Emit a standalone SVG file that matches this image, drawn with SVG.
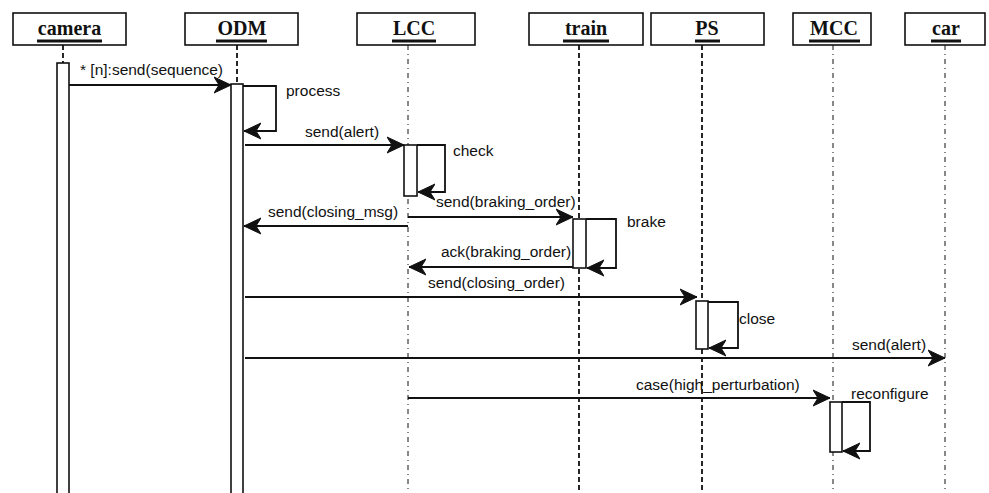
<svg xmlns="http://www.w3.org/2000/svg" width="989" height="493" viewBox="0 0 989 493">
<style>
.hd{fill:#fff;stroke:#111;stroke-width:1.6}
.ht{font-family:"Liberation Serif",serif;font-weight:bold;font-size:20px;fill:#111;text-anchor:middle}
.ul{fill:#111}
.ll{stroke:#111;stroke-width:1;fill:none;stroke-dasharray:5,4,1,4}
.lt{stroke:#111;stroke-width:1.8;fill:none;stroke-dasharray:5,3}
.act{fill:#fff;stroke:#111;stroke-width:1.6}
.msg{stroke:#111;stroke-width:1.8;fill:none;marker-end:url(#ah)}
.lbl{font-family:"Liberation Sans",Arial,sans-serif;font-size:15.5px;fill:#111}
</style>
<defs>
<marker id="ah" markerUnits="userSpaceOnUse" markerWidth="20" markerHeight="20" refX="17" refY="9" orient="auto">
<path d="M0,1 L17,9 L0,17 L5,9 z" fill="#111" stroke="#111" stroke-width="1" stroke-linejoin="miter"/>
</marker>
</defs>
<g id="camera">
<rect class="hd" x="13" y="13" width="113" height="32"/>
<text class="ht" x="69.5" y="35">camera</text>
<rect class="ul" x="37" y="39.5" width="65" height="3"/>
<line class="lt" x1="63" y1="45" x2="63" y2="63"/>
<rect class="act" x="57" y="63" width="12" height="440"/>
</g>
<g id="ODM">
<rect class="hd" x="185" y="13" width="113" height="32"/>
<text class="ht" x="242" y="35">ODM</text>
<rect class="ul" x="216" y="39.5" width="51" height="3"/>
<line class="lt" x1="237" y1="45" x2="237" y2="84"/>
<rect class="act" x="231" y="84" width="12" height="420"/>
</g>
<g id="LCC">
<rect class="hd" x="357" y="13" width="118" height="32"/>
<text class="ht" x="414" y="35">LCC</text>
<rect class="ul" x="392" y="39.5" width="44" height="3"/>
<line class="ll" x1="408" y1="45" x2="408" y2="493"/>
<rect class="act" x="404" y="145" width="13" height="51"/>
</g>
<g id="train">
<rect class="hd" x="529" y="13" width="114" height="32"/>
<text class="ht" x="586" y="35">train</text>
<rect class="ul" x="563" y="39.5" width="46" height="3"/>
<line class="lt" x1="579" y1="45" x2="579" y2="493"/>
<rect class="act" x="573" y="219" width="13" height="49"/>
</g>
<g id="PS">
<rect class="hd" x="651" y="13" width="113" height="32"/>
<text class="ht" x="707" y="35">PS</text>
<rect class="ul" x="695" y="39.5" width="25" height="3"/>
<line class="lt" x1="702" y1="45" x2="702" y2="493"/>
<rect class="act" x="696" y="301" width="12" height="48"/>
</g>
<g id="MCC">
<rect class="hd" x="793" y="13" width="78" height="32"/>
<text class="ht" x="834" y="35">MCC</text>
<rect class="ul" x="809" y="39.5" width="51" height="3"/>
<line class="ll" x1="833" y1="45" x2="833" y2="493"/>
<rect class="act" x="830" y="402" width="12" height="50"/>
</g>
<g id="car">
<rect class="hd" x="905" y="13" width="80" height="32"/>
<text class="ht" x="946" y="35">car</text>
<rect class="ul" x="931" y="39.5" width="30" height="3"/>
<line class="ll" x1="945" y1="45" x2="945" y2="493"/>
</g>
<g id="connectors">
<line class="msg" x1="69" y1="85" x2="231" y2="85"/>
<text class="lbl" x="80" y="75">* [n]:send(sequence)</text>
<polyline class="msg" points="243,86 276,86 276,131 244,131"/>
<text class="lbl" x="286" y="96">process</text>
<line class="msg" x1="245" y1="145" x2="404" y2="145"/>
<text class="lbl" x="305" y="137">send(alert)</text>
<polyline class="msg" points="417,145 445,145 445,192 418,192"/>
<text class="lbl" x="453" y="156">check</text>
<line class="msg" x1="408" y1="217" x2="573" y2="217"/>
<text class="lbl" x="436" y="207">send(braking_order)</text>
<line class="msg" x1="408" y1="226" x2="244" y2="226"/>
<text class="lbl" x="268" y="217">send(closing_msg)</text>
<polyline class="msg" points="586,219 616,219 616,268 587,268"/>
<text class="lbl" x="627" y="227">brake</text>
<line class="msg" x1="573" y1="267" x2="409" y2="267"/>
<text class="lbl" x="441" y="257">ack(braking_order)</text>
<line class="msg" x1="245" y1="297" x2="697" y2="297"/>
<text class="lbl" x="428" y="288">send(closing_order)</text>
<polyline class="msg" points="708,302 738,302 738,348 709,348"/>
<text class="lbl" x="739" y="324">close</text>
<line class="msg" x1="245" y1="358" x2="945" y2="358"/>
<text class="lbl" x="852" y="350">send(alert)</text>
<line class="msg" x1="408" y1="398" x2="830" y2="398"/>
<text class="lbl" x="636" y="390">case(high_perturbation)</text>
<polyline class="msg" points="842,402 870,402 870,451 843,451"/>
<text class="lbl" x="851" y="399">reconfigure</text>
</g>
</svg>
